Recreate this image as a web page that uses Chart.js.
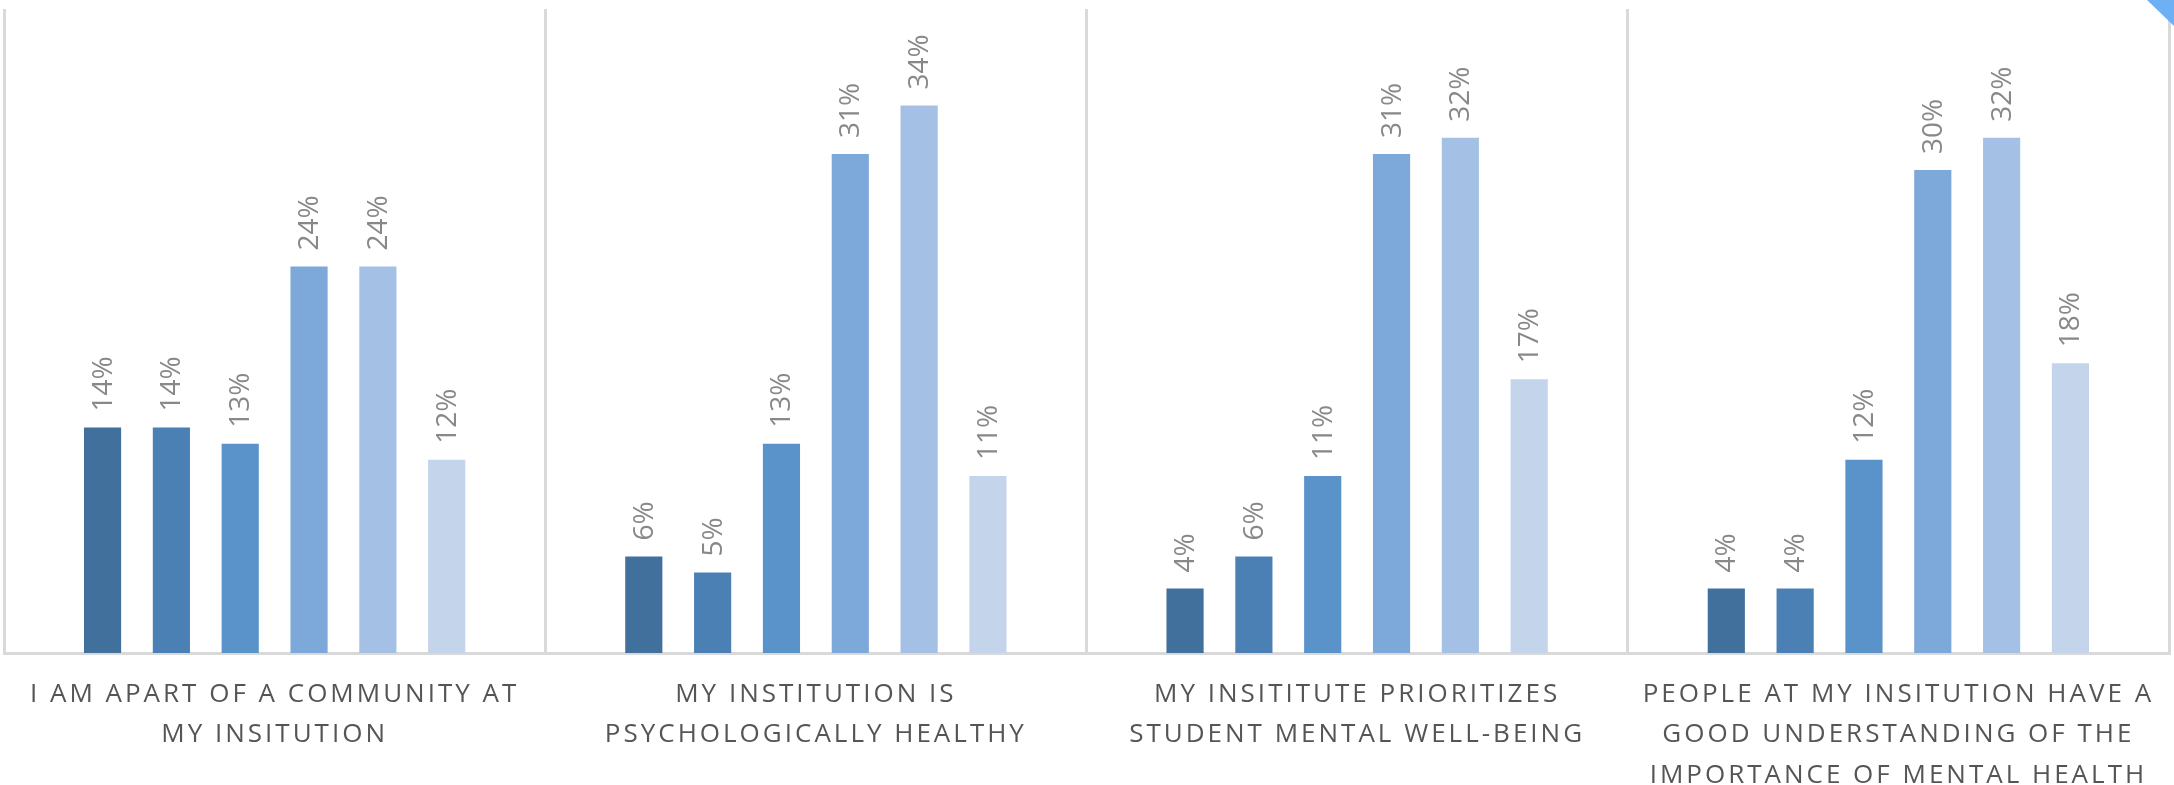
<!DOCTYPE html>
<html>
<head>
<meta charset="utf-8">
<script src="https://cdn.jsdelivr.net/npm/chart.js@4"></script>
<style>
  body { margin: 0; background: #fff; }
  #wrap { position: relative; width: 2174px; height: 785px; overflow: hidden; }
  #corner { position: absolute; top: 0; right: 0; width: 27px; height: 26px;
            background: #6db0f3; clip-path: polygon(0 0, 100% 0, 100% 100%); }
</style>
</head>
<body>
<div id="wrap">
  <canvas id="chart" width="2174" height="785"></canvas>
  <div id="corner"></div>
</div>
<script>
// categories (x axis labels, already wrapped)
const categories = [
    ['I AM APART OF A COMMUNITY AT', 'MY INSITUTION'],
    ['MY INSTITUTION IS', 'PSYCHOLOGICALLY HEALTHY'],
    ['MY INSITITUTE PRIORITIZES', 'STUDENT MENTAL WELL-BEING'],
    ['PEOPLE AT MY INSITUTION HAVE A', 'GOOD UNDERSTANDING OF THE', 'IMPORTANCE OF MENTAL HEALTH']
];

// percentages, one series per response level
const response1 = [14, 6, 4, 4];
const response2 = [14, 5, 6, 4];
const response3 = [13, 13, 11, 12];
const response4 = [24, 31, 31, 30];
const response5 = [24, 34, 32, 32];
const response6 = [12, 11, 17, 18];

const seriesValues = [response1, response2, response3, response4, response5, response6];
const seriesColors = ['#41709c', '#4a80b3', '#5993ca', '#7ca9da', '#a4c1e5', '#c3d4eb'];

// value labels, rotated, above each bar
const valueLabels = {
    id: 'valueLabels',
    afterDatasetsDraw(chart) {
        const ctx = chart.ctx;
        ctx.save();
        ctx.letterSpacing = '0px';
        ctx.font = '28px "Open Sans"';
        ctx.fillStyle = '#888888';
        ctx.textAlign = 'left';
        ctx.textBaseline = 'middle';
        chart.data.datasets.forEach((ds, i) => {
            chart.getDatasetMeta(i).data.forEach((bar, j) => {
                ctx.save();
                ctx.translate(bar.x, bar.y - 16);
                ctx.rotate(-Math.PI / 2);
                ctx.fillText(ds.data[j] + '%', 0, 1);
                ctx.restore();
            });
        });
        ctx.restore();
    }
};

// spaced out category text
const spacedTicks = {
    id: 'spacedTicks',
    beforeDraw(chart) { chart.ctx.letterSpacing = '3px'; },
    beforeDatasetsDraw(chart) { chart.ctx.letterSpacing = '0px'; }
};

new Chart(document.getElementById('chart'), {
    type: 'bar',
    data: {
        labels: categories,
        datasets: seriesValues.map((vals, i) => ({
            label: 'Response ' + (i + 1),
            data: vals,
            backgroundColor: seriesColors[i],
            categoryPercentage: 0.763,
            barPercentage: 0.54
        }))
    },
    options: {
        responsive: false,
        animation: false,
        layout: { padding: { top: 9, left: 4, right: 5, bottom: 0 } },
        plugins: {
            legend: { display: false },
            tooltip: { enabled: false }
        },
        scales: {
            x: {
                grid: { offset: true, color: '#d9d9d9', lineWidth: 3, drawTicks: false },
                border: { color: '#d9d9d9', width: 3 },
                ticks: {
                    color: '#555555',
                    font: { family: 'Open Sans', size: 26, lineHeight: 1.54 },
                    padding: 22,
                    maxRotation: 0,
                    autoSkip: false
                },
                afterFit(scale) { scale.height = 132; }
            },
            y: { display: false, min: 0, max: 40 }
        }
    },
    plugins: [spacedTicks, valueLabels]
});
</script>
</body>
</html>
